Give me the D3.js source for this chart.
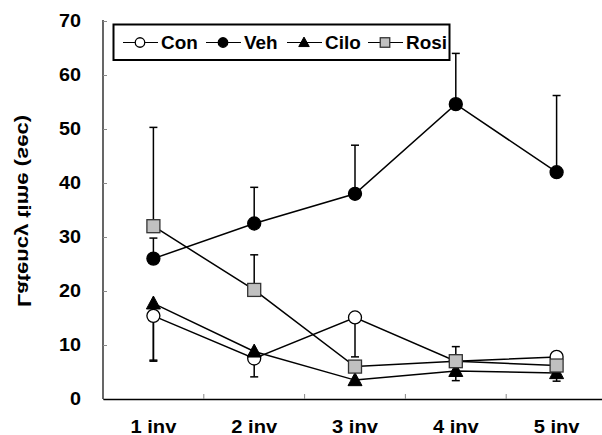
<!DOCTYPE html>
<html lang="en">
<head>
<meta charset="UTF-8">
<title>Latency time</title>
<script src="https://d3js.org/d3.v7.min.js"></script>
<style>
  body { margin: 0; background: #fff; }
  svg { display: block; font-family: "Liberation Sans", Arial, sans-serif; }
  .tick text { font-size: 17.5px; font-weight: bold; fill: #000; }
  .lbl { font-size: 17.5px; font-weight: bold; fill: #000; }
</style>
</head>
<body>
<svg width="602" height="435"></svg>
<script>
const categories = ["1 inv", "2 inv", "3 inv", "4 inv", "5 inv"];
const yTicks = [0, 10, 20, 30, 40, 50, 60, 70];

// means and error bar ends (con/cilo bars point down, veh/rosi up)
const conMean  = [15.4, 7.5, 15.1, 7.0, 7.8];
const conErr   = [7.2, 4.1, 7.8, 7.0, 7.8];
const vehMean  = [26.0, 32.5, 38.0, 54.6, 42.0];
const vehErr   = [29.8, 39.2, 47.0, 64.0, 56.2];
const ciloMean = [17.7, 8.8, 3.5, 5.2, 4.8];
const ciloErr  = [7.0, 8.8, 3.5, 3.4, 3.3];
const rosiMean = [32.0, 20.2, 6.0, 7.0, 6.2];
const rosiErr  = [50.3, 26.7, 6.0, 9.7, 6.2];

const series = [
  { name: "Con",  mean: conMean,  err: conErr,  shape: "circle",   fill: "#fff" },
  { name: "Veh",  mean: vehMean,  err: vehErr,  shape: "circle",   fill: "#000" },
  { name: "Cilo", mean: ciloMean, err: ciloErr, shape: "triangle", fill: "#000" },
  { name: "Rosi", mean: rosiMean, err: rosiErr, shape: "square",   fill: "#c0c0c0" }
];

const svg = d3.select("svg");
const x = d3.scaleBand().domain(categories).range([103, 607]);
const y = d3.scaleLinear().domain([0, 70]).range([399, 21]);
const cx = d => x(d) + x.bandwidth() / 2;

// the figure's bold font is a bit wider than Liberation Sans
function stretch(sel, k) {
  sel.each(function() {
    const w = this.getComputedTextLength();
    d3.select(this).attr("textLength", w * k).attr("lengthAdjust", "spacingAndGlyphs");
  });
}

function marker(sel, shape, size, fill) {
  if (shape === "circle") {
    sel.append("circle").attr("r", size / 2).attr("fill", fill)
      .attr("stroke", "#000").attr("stroke-width", 1.3);
  } else if (shape === "square") {
    sel.append("rect").attr("x", -size / 2).attr("y", -size / 2)
      .attr("width", size).attr("height", size).attr("fill", fill)
      .attr("stroke", "#333").attr("stroke-width", 1.3);
  } else {
    const h = size * 0.95;
    sel.append("path").attr("d", `M0,${-h * 0.6}L${size / 2 + 0.5},${h * 0.45}L${-size / 2 - 0.5},${h * 0.45}Z`)
      .attr("fill", fill).attr("stroke", "#000").attr("stroke-width", 1);
  }
}

// y axis, ticks inside
const yAxis = svg.append("g").attr("transform", "translate(103,0)")
  .call(d3.axisLeft(y).tickValues(yTicks).tickSizeInner(-4).tickSizeOuter(0).tickPadding(22));
yAxis.select(".domain").attr("stroke", "#000").attr("stroke-width", 1.2).attr("d", `M0,${y(70) - 1}V${y(0)}`);
yAxis.selectAll(".tick line").attr("stroke", "#888");
yAxis.selectAll(".tick text").call(stretch, 1.13);

// x axis, labels at band centres, ticks at band edges
const xAxis = svg.append("g").attr("transform", `translate(0,${y(0)})`)
  .call(d3.axisBottom(x).tickSize(0));
xAxis.select(".domain").attr("stroke", "#000").attr("stroke-width", 1.5);
xAxis.selectAll(".tick text").attr("y", 34).attr("dy", 0).call(stretch, 1.15);
svg.append("g").selectAll("line")
  .data(categories.slice(1))
  .join("line")
  .attr("x1", d => x(d)).attr("x2", d => x(d))
  .attr("y1", y(0)).attr("y2", y(0) - 5)
  .attr("stroke", "#888");

// y label (mirrored, as in the original figure)
svg.append("text").attr("class", "lbl")
  .attr("transform", "translate(23,211) rotate(-90) scale(1,-1)")
  .attr("text-anchor", "middle").attr("dominant-baseline", "middle")
  .attr("textLength", 192).attr("lengthAdjust", "spacingAndGlyphs")
  .text("Latency time (sec)");

// error bars
series.forEach(s => {
  const g = svg.append("g");
  categories.forEach((c, i) => {
    if (Math.abs(s.err[i] - s.mean[i]) < 0.3) return;
    g.append("line").attr("x1", cx(c)).attr("x2", cx(c))
      .attr("y1", y(s.mean[i])).attr("y2", y(s.err[i]))
      .attr("stroke", "#000").attr("stroke-width", 1.5);
    g.append("line").attr("x1", cx(c) - 4).attr("x2", cx(c) + 4)
      .attr("y1", y(s.err[i])).attr("y2", y(s.err[i]))
      .attr("stroke", "#000").attr("stroke-width", 1.5);
  });
});

// lines
const line = d3.line().x((d, i) => cx(categories[i])).y(d => y(d));
series.forEach(s => {
  svg.append("path").attr("d", line(s.mean)).attr("fill", "none")
    .attr("stroke", "#000").attr("stroke-width", 1.5);
});

// markers
series.forEach(s => {
  svg.append("g").selectAll("g")
    .data(s.mean)
    .join("g")
    .attr("transform", (d, i) => `translate(${cx(categories[i])},${y(d)})`)
    .each(function() { marker(d3.select(this), s.shape, 13, s.fill); });
});

// legend
const leg = svg.append("g");
leg.append("rect").attr("x", 113.5).attr("y", 24.5).attr("width", 336).attr("height", 35.5)
  .attr("fill", "#fff").attr("stroke", "#000").attr("stroke-width", 2);
const legX = [123, 206, 287, 368];
series.forEach((s, i) => {
  const gx = legX[i], gy = 42.5;
  leg.append("line").attr("x1", gx).attr("x2", gx + 35).attr("y1", gy).attr("y2", gy)
    .attr("stroke", "#000").attr("stroke-width", 1.2);
  const m = leg.append("g").attr("transform", `translate(${gx + 17},${gy})`);
  marker(m, s.shape, 9.5, s.fill);
  leg.append("text").attr("class", "lbl").attr("x", gx + 38).attr("y", gy)
    .attr("dy", "0.36em").text(s.name).call(stretch, 1.08);
});
</script>
</body>
</html>
